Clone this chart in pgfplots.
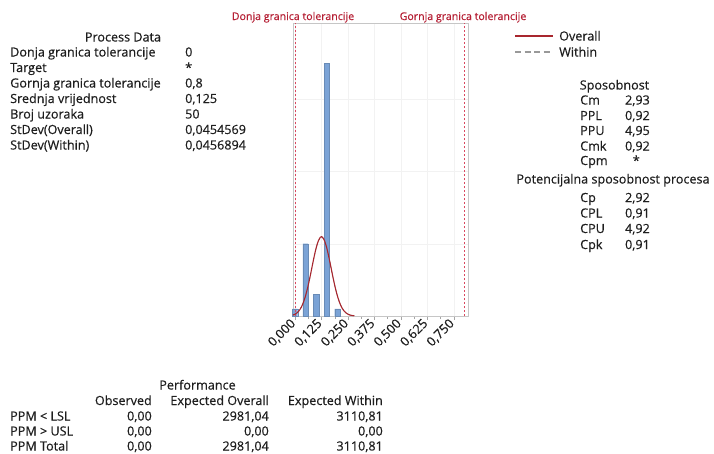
\documentclass[border=0pt]{standalone}
\usepackage{fontspec}
\setmainfont{Open Sans}[FakeBold=0.45]
\usepackage{pgfplots}
\pgfplotsset{compat=1.18}
\definecolor{barblue}{HTML}{7BA3D6}
\definecolor{refred}{HTML}{B52035}
\definecolor{linered}{HTML}{D9485F}
\definecolor{curvered}{HTML}{A8262E}
\definecolor{txt}{HTML}{1E1E1E}
\begin{document}
\fontsize{12.6}{15}\selectfont
\begin{tikzpicture}
\path[use as bounding box] (0,0) rectangle (714pt,-453pt);
\begin{axis}[
  at={(293pt,-316pt)}, anchor=south west, scale only axis,
  width=175.3pt, height=292.7pt,
  xmin=-0.0095, xmax=0.819, ymin=0, ymax=40.5,
  axis line style={gray!45},
  xtick={0,0.125,0.25,0.375,0.5,0.625,0.75},
  xticklabels={{0,000},{0,125},{0,250},{0,375},{0,500},{0,625},{0,750}},
  minor x tick num=1,
  xtick pos=left, tick align=outside,
  major tick length=4pt, minor tick length=3pt,
  tick style={gray!70},
  ytick={10,20,30}, yticklabels={}, 
  y tick style={draw=none},
  xmajorgrids, ymajorgrids, grid style={gray!10},
  x tick label style={rotate=45, anchor=east, font=\fontsize{12.8}{15}\selectfont, text=txt, inner sep=2pt},
  clip=false,
]
\addplot[ybar, bar width=0.025, bar shift=0pt, fill=barblue, draw=barblue!85!black, line width=0.3pt]
  coordinates {(0,1) (0.05,10) (0.1,3) (0.15,35) (0.2,1)};
\addplot[linered, line width=0.55pt, dash pattern=on 2pt off 2pt] coordinates {(0,0) (0,40.5)};
\addplot[linered, line width=0.55pt, dash pattern=on 2pt off 2pt] coordinates {(0.8,0) (0.8,40.5)};
\addplot[gray!80, line width=0.7pt, dash pattern=on 3pt off 2pt, smooth] coordinates {
(-0.01,0.1387) (0,0.2587) (0.01,0.4595) (0.02,0.7783) (0.03,1.2568) (0.04,1.9339)
(0.05,2.8375) (0.06,3.9674) (0.07,5.2891) (0.08,6.7195) (0.09,8.1400) (0.10,9.3975)
(0.11,10.342) (0.12,10.850) (0.125,10.915) (0.13,10.850) (0.14,10.342) (0.15,9.3975)
(0.16,8.1400) (0.17,6.7195) (0.18,5.2891) (0.19,3.9674) (0.20,2.8375) (0.21,1.9339)
(0.22,1.2568) (0.23,0.7783) (0.24,0.4595) (0.25,0.2587) (0.26,0.1387) (0.27,0.0710) (0.28,0.0348)};
\addplot[curvered, line width=1.1pt, smooth] coordinates {
(-0.01,0.1334) (0,0.2502) (0.01,0.4471) (0.02,0.7615) (0.03,1.2356) (0.04,1.9097)
(0.05,2.8129) (0.06,3.9467) (0.07,5.2765) (0.08,6.7205) (0.09,8.1561) (0.10,9.4304)
(0.11,10.389) (0.12,10.904) (0.125,10.970) (0.13,10.904) (0.14,10.389) (0.15,9.4304)
(0.16,8.1561) (0.17,6.7205) (0.18,5.2765) (0.19,3.9467) (0.20,2.8129) (0.21,1.9097)
(0.22,1.2356) (0.23,0.7615) (0.24,0.4471) (0.25,0.2502) (0.26,0.1334) (0.27,0.0678) (0.28,0.0328)};
\end{axis}
\begin{scope}[x=1pt, y=-1pt, every node/.style={inner sep=0pt, text=txt}]
% reference labels
\node[anchor=base, text=refred, font=\fontsize{10.6}{12}\selectfont] at (293,20) {Donja granica tolerancije};
\node[anchor=base, text=refred, font=\fontsize{10.6}{12}\selectfont] at (463,20) {Gornja granica tolerancije};
% legend
\draw[curvered, line width=1.1pt] (515,36) -- (553,36);
\draw[gray!80, line width=1.1pt, dash pattern=on 6pt off 3.5pt] (515,52) -- (553,52);
\node[anchor=base west] at (559,40.5) {Overall};
\node[anchor=base west] at (559,56.5) {Within};
% process data
\node[anchor=base] at (123,41.5) {Process Data};
\node[anchor=base west] at (10,56.5) {Donja granica tolerancije};
\node[anchor=base west] at (10,72) {Target};
\node[anchor=base west] at (10,87.5) {Gornja granica tolerancije};
\node[anchor=base west] at (10,103) {Srednja vrijednost};
\node[anchor=base west] at (10,118.5) {Broj uzoraka};
\node[anchor=base west] at (10,134) {StDev(Overall)};
\node[anchor=base west] at (10,149.5) {StDev(Within)};
\node[anchor=base west] at (185,56.5) {0};
\node[anchor=base west] at (185,72) {*};
\node[anchor=base west] at (185,87.5) {0,8};
\node[anchor=base west] at (185,103) {0,125};
\node[anchor=base west] at (185,118.5) {50};
\node[anchor=base west] at (185,134) {0,0454569};
\node[anchor=base west] at (185,149.5) {0,0456894};
% capability
\node[anchor=base] at (614.5,89.5) {Sposobnost};
\node[anchor=base west] at (580,104.5) {Cm};
\node[anchor=base west] at (580,120) {PPL};
\node[anchor=base west] at (580,135) {PPU};
\node[anchor=base west] at (580,150.5) {Cmk};
\node[anchor=base west] at (580,165) {Cpm};
\node[anchor=base east] at (650,104.5) {2,93};
\node[anchor=base east] at (650,120) {0,92};
\node[anchor=base east] at (650,135) {4,95};
\node[anchor=base east] at (650,150.5) {0,92};
\node[anchor=base east] at (640,165) {*};
\node[anchor=base] at (613,183.5) {Potencijalna sposobnost procesa};
\node[anchor=base west] at (580,202) {Cp};
\node[anchor=base west] at (580,217.5) {CPL};
\node[anchor=base west] at (580,233) {CPU};
\node[anchor=base west] at (580,249) {Cpk};
\node[anchor=base east] at (650,202) {2,92};
\node[anchor=base east] at (650,217.5) {0,91};
\node[anchor=base east] at (650,233) {4,92};
\node[anchor=base east] at (650,249) {0,91};
% performance
\node[anchor=base] at (197.5,389.5) {Performance};
\node[anchor=base east] at (152,405) {Observed};
\node[anchor=base east] at (269,405) {Expected Overall};
\node[anchor=base east] at (383,405) {Expected Within};
\node[anchor=base west] at (10,420.5) {PPM < LSL};
\node[anchor=base west] at (10,435.5) {PPM > USL};
\node[anchor=base west] at (10,450.5) {PPM Total};
\node[anchor=base east] at (152,420.5) {0,00};
\node[anchor=base east] at (152,435.5) {0,00};
\node[anchor=base east] at (152,450.5) {0,00};
\node[anchor=base east] at (269,420.5) {2981,04};
\node[anchor=base east] at (269,435.5) {0,00};
\node[anchor=base east] at (269,450.5) {2981,04};
\node[anchor=base east] at (383,420.5) {3110,81};
\node[anchor=base east] at (383,435.5) {0,00};
\node[anchor=base east] at (383,450.5) {3110,81};
\end{scope}
\end{tikzpicture}
\end{document}
